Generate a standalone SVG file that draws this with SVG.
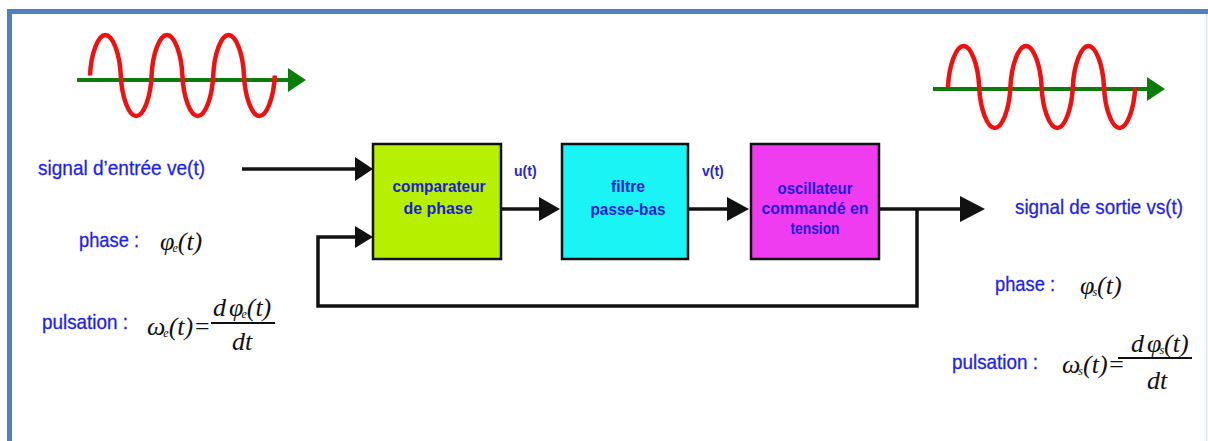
<svg xmlns="http://www.w3.org/2000/svg" width="1208" height="441" viewBox="0 0 1208 441">
<style>
.lbl{font-family:"Liberation Sans",Arial,sans-serif;font-size:21px;fill:#1e1ef0;stroke:#1e1ef0;stroke-width:0.3;lengthAdjust:spacingAndGlyphs}
.blk{font-family:"Liberation Sans",Arial,sans-serif;font-size:16px;font-weight:bold;fill:#1c1cd8;text-anchor:middle}
.sig{font-family:"Liberation Sans",Arial,sans-serif;font-size:14px;font-weight:bold;fill:#2424e0}
.math{font-family:"Liberation Serif","Times New Roman",serif;font-size:26px;font-style:italic;fill:#111}
.sub{font-size:12px}
.box{stroke:#111;stroke-width:2.5}
.wire{fill:none;stroke:#111;stroke-width:3.5}
.head{fill:#111}
.wave{fill:none;stroke:#f01010;stroke-width:4.5}
.axis{fill:none;stroke:#0b7d0b;stroke-width:4}
.axhead{fill:#0b7d0b}
.bar{stroke:#111;stroke-width:2}
</style>
<rect width="1208" height="441" fill="#ffffff"/>
<g id="frame">
<path d="M9.5,441 V11.5 H1208" fill="none" stroke="#4f81bd" stroke-width="5"/>
<line x1="1206.5" y1="14" x2="1206.5" y2="441" stroke="#d6dee8" stroke-width="1.5"/>
</g>
<g id="wave-in">
<line class="axis" x1="77" y1="80" x2="290" y2="80"/>
<polygon class="axhead" points="288,68 306,80 288,92"/>
<path class="wave" d="M90,75.5 c1,-22 8,-40.5 15.4,-40.5 s14.4,18.5 15.4,40.5 s8,40.5 15.4,40.5 s14.4,-18.5 15.4,-40.5 s8,-40.5 15.4,-40.5 s14.4,18.5 15.4,40.5 s8,40.5 15.4,40.5 s14.4,-18.5 15.4,-40.5 s8,-40.5 15.4,-40.5 s14.4,18.5 15.4,40.5 s8,40.5 15.4,40.5 s14.4,-18.5 15.4,-40.5"/>
</g>
<g id="wave-out">
<line class="axis" x1="933" y1="89" x2="1150" y2="89"/>
<polygon class="axhead" points="1147,77 1165,89 1147,101"/>
<path class="wave" d="M948,87 c1,-22 8.1,-41 15.6,-41 s14.6,19 15.6,41 s8.1,41 15.6,41 s14.6,-19 15.6,-41 s8.1,-41 15.6,-41 s14.6,19 15.6,41 s8.1,41 15.6,41 s14.6,-19 15.6,-41 s8.1,-41 15.6,-41 s14.6,19 15.6,41 s8.1,41 15.6,41 s14.6,-19 15.6,-41"/>
</g>
<g id="connectors">
<path class="wire" d="M242,169 H357"/>
<polygon class="head" points="355,157 373,169 355,181"/>
<path class="wire" d="M501,209 H541"/>
<polygon class="head" points="539,197 560,209 539,221"/>
<path class="wire" d="M688,209 H729"/>
<polygon class="head" points="727,197 749,209 727,221"/>
<path class="wire" d="M879,209 H962"/>
<polygon class="head" points="960,196 985,209 960,222"/>
<path class="wire" d="M917,209 V306 H318 V237 H357"/>
<polygon class="head" points="355,226 373,237 355,248"/>
</g>
<g id="comparateur">
<rect class="box" x="373" y="144" width="128" height="115" fill="#b6f000"/>
<text class="blk" x="439" y="192" textLength="93" lengthAdjust="spacingAndGlyphs">comparateur</text>
<text class="blk" x="438" y="214" textLength="69" lengthAdjust="spacingAndGlyphs">de phase</text>
</g>
<g id="filtre">
<rect class="box" x="562" y="144" width="126" height="115" fill="#1af4f4"/>
<text class="blk" x="628" y="192" textLength="34" lengthAdjust="spacingAndGlyphs">filtre</text>
<text class="blk" x="628" y="215" textLength="75" lengthAdjust="spacingAndGlyphs">passe-bas</text>
</g>
<g id="oscillateur">
<rect class="box" x="751" y="144" width="128" height="115" fill="#f03cf0"/>
<text class="blk" x="815" y="194" textLength="75" lengthAdjust="spacingAndGlyphs">oscillateur</text>
<text class="blk" x="815" y="214" textLength="107" lengthAdjust="spacingAndGlyphs">commandé en</text>
<text class="blk" x="815" y="234" textLength="49" lengthAdjust="spacingAndGlyphs">tension</text>
</g>
<g id="signals">
<text class="sig" x="514" y="176">u(t)</text>
<text class="sig" x="702" y="176">v(t)</text>
</g>
<g id="entree">
<text class="lbl" x="38" y="175" textLength="167" lengthAdjust="spacingAndGlyphs">signal d’entrée ve(t)</text>
<text class="lbl" x="79" y="247" textLength="60" lengthAdjust="spacingAndGlyphs">phase :</text>
<text class="math" x="160" y="250">φ<tspan class="sub" dx="-2" dy="2">e</tspan><tspan dy="-2">(t)</tspan></text>
<text class="lbl" x="42" y="329" textLength="86" lengthAdjust="spacingAndGlyphs">pulsation :</text>
<text class="math" x="147" y="335">ω<tspan class="sub" dx="-2" dy="2">e</tspan><tspan dy="-2">(t)=</tspan></text>
<line class="bar" x1="211" y1="323" x2="275" y2="323"/>
<text class="math" x="213" y="316">d<tspan dx="3">φ</tspan><tspan class="sub" dx="-2" dy="2">e</tspan><tspan dy="-2">(t)</tspan></text>
<text class="math" x="232" y="350">dt</text>
</g>
<g id="sortie">
<text class="lbl" x="1015" y="214" textLength="168" lengthAdjust="spacingAndGlyphs">signal de sortie vs(t)</text>
<text class="lbl" x="995" y="291" textLength="60" lengthAdjust="spacingAndGlyphs">phase :</text>
<text class="math" x="1080" y="294">φ<tspan class="sub" dx="-2" dy="2">s</tspan><tspan dy="-2">(t)</tspan></text>
<text class="lbl" x="952" y="369" textLength="86" lengthAdjust="spacingAndGlyphs">pulsation :</text>
<text class="math" x="1062" y="373">ω<tspan class="sub" dx="-2" dy="2">s</tspan><tspan dy="-2">(t)=</tspan></text>
<line class="bar" x1="1118" y1="358" x2="1192" y2="358"/>
<text class="math" x="1131" y="352">d<tspan dx="3">φ</tspan><tspan class="sub" dx="-2" dy="2">s</tspan><tspan dy="-2">(t)</tspan></text>
<text class="math" x="1147" y="389">dt</text>
</g>
</svg>
